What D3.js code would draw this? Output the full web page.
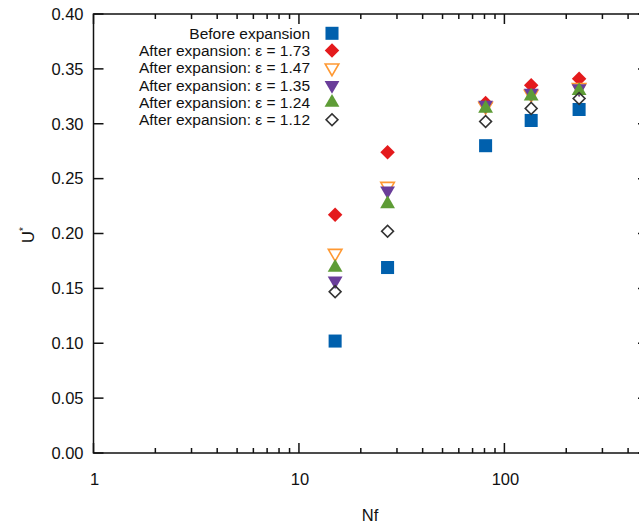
<!DOCTYPE html>
<html><head><meta charset="utf-8">
<script src="https://cdn.jsdelivr.net/npm/d3@7"></script>
<style>body{margin:0;background:#fff}svg{display:block}text{font-family:"Liberation Sans",Arial,sans-serif;fill:#111}</style>
</head><body><svg id="c" width="639" height="526"></svg>
<script>
const nf = [15, 27, 81, 135, 231];
const seriesNames = ["Before expansion","After expansion: ε = 1.73","After expansion: ε = 1.47","After expansion: ε = 1.35","After expansion: ε = 1.24","After expansion: ε = 1.12"];
const before = [0.102, 0.169, 0.280, 0.303, 0.313];
const eps173 = [0.217, 0.274, 0.319, 0.335, 0.341];
const eps147 = [0.182, 0.243, 0.316, 0.327, 0.333];
const eps135 = [0.157, 0.239, 0.317, 0.328, 0.332];
const eps124 = [0.169, 0.227, 0.314, 0.325, 0.330];
const eps112 = [0.147, 0.202, 0.302, 0.314, 0.323];
const yTicks = [0,0.05,0.10,0.15,0.20,0.25,0.30,0.35,0.40];
const xMajor = [1,10,100];

const styles = [
 {sym:d3.symbolSquare, size:170, fill:"#0060ad", stroke:"#0060ad", sw:0, rot:0},
 {sym:d3.symbolSquare, size:105, fill:"#e41a1c", stroke:"none", sw:0, rot:45},
 {sym:d3.symbolTriangle, size:80, fill:"none", stroke:"#ff9933", sw:1.6, rot:180},
 {sym:d3.symbolTriangle, size:95, fill:"#6a3d9a", stroke:"none", sw:0, rot:180},
 {sym:d3.symbolTriangle, size:95, fill:"#5e9c36", stroke:"none", sw:0, rot:0},
 {sym:d3.symbolSquare, size:70, fill:"none", stroke:"#333", sw:1.6, rot:45},
];
const data = [before, eps173, eps147, eps135, eps124, eps112];

const svg = d3.select("#c");
const L=93.5, R=648, T=14, B=453;
const x = d3.scaleLog().domain([1,500]).range([L,R]);
const y = d3.scaleLinear().domain([0,0.4]).range([B,T]);

const minor = [];
for (let d of [1,10,100]) for (let k=2;k<=9;k++){ const v=d*k; if(v<=500) minor.push(v); }

const g = svg.append("g").attr("stroke","#111").attr("stroke-width",1.5);
g.append("rect").attr("x",L).attr("y",T).attr("width",R-L).attr("height",B-T).attr("fill","none");

xMajor.forEach(v=>{
  g.append("line").attr("x1",x(v)).attr("x2",x(v)).attr("y1",B).attr("y2",B-10);
  g.append("line").attr("x1",x(v)).attr("x2",x(v)).attr("y1",T).attr("y2",T+10);
});
minor.forEach(v=>{
  g.append("line").attr("x1",x(v)).attr("x2",x(v)).attr("y1",B).attr("y2",B-5);
  g.append("line").attr("x1",x(v)).attr("x2",x(v)).attr("y1",T).attr("y2",T+5);
});
yTicks.forEach(v=>{
  g.append("line").attr("x1",L).attr("x2",L+10).attr("y1",y(v)).attr("y2",y(v));
  g.append("line").attr("x1",R).attr("x2",R-10).attr("y1",y(v)).attr("y2",y(v));
});

const fs = 16.5;
svg.append("g").selectAll("text").data(yTicks).join("text")
  .attr("x",L-10).attr("y",d=>y(d)).attr("dy","0.35em").attr("text-anchor","end")
  .attr("font-size",fs).text(d=>d3.format(".2f")(d));
svg.append("g").selectAll("text").data(xMajor).join("text")
  .attr("x",d=>x(d)+1).attr("y",B+32).attr("text-anchor","middle")
  .attr("font-size",fs).text(d=>d);

svg.append("text").attr("x",370).attr("y",521).attr("text-anchor","middle").attr("font-size",fs).text("Nf");
const yl = svg.append("text").attr("transform","translate(34,235) rotate(-90)").attr("text-anchor","middle").attr("font-size",fs);
yl.append("tspan").text("U");
yl.append("tspan").attr("font-size",10).attr("dy",-7).text("*");

function mark(sel, st){
  sel.attr("d", d3.symbol().type(st.sym).size(st.size)())
     .attr("fill",st.fill).attr("stroke",st.stroke).attr("stroke-width",st.sw);
}
const pts = svg.append("g");
data.forEach((arr,i)=>{
  const st = styles[i];
  pts.selectAll(null).data(arr.map((v,j)=>[nf[j],v])).join("path")
    .call(s=>mark(s,st))
    .attr("transform",d=>`translate(${x(d[0])},${y(d[1])}) rotate(${st.rot})`);
});

const legY0 = 33.3, legDy = 17.3;
seriesNames.forEach((n,i)=>{
  const yy = legY0 + i*legDy;
  svg.append("text").attr("x",310).attr("y",yy).attr("dy","0.35em").attr("text-anchor","end").attr("font-size",15.5).text(n);
  const st = styles[i];
  svg.append("path").call(s=>mark(s,st)).attr("transform",`translate(332,${yy}) rotate(${st.rot})`);
});
</script></body></html>
